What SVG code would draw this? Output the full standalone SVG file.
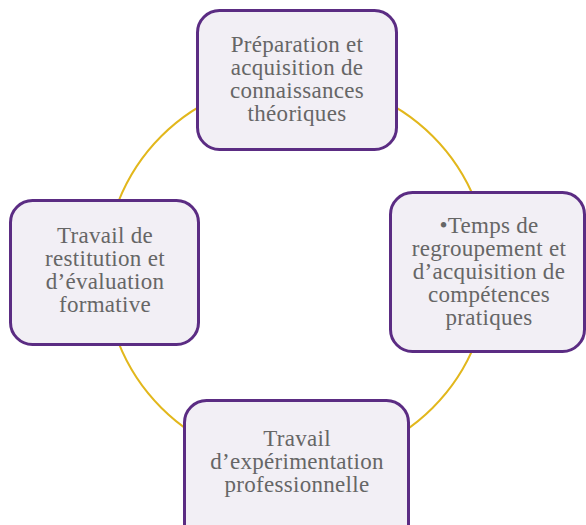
<svg xmlns="http://www.w3.org/2000/svg" width="586" height="525" viewBox="0 0 586 525">
<style>
.node{fill:#F2EFF5;stroke:#5B2C83;stroke-width:3}
.lbl{font-family:"Liberation Serif","Times New Roman",serif;font-size:23px;letter-spacing:0.3px;fill:#666666;text-anchor:middle}
.ring{fill:none;stroke:#E2B71C;stroke-width:2}
</style>
<rect width="586" height="525" fill="#FFFFFF"/>
<g id="connectors">
<circle class="ring" cx="297" cy="272" r="192"/>
</g>
<g id="node-top">
<rect class="node" x="197.5" y="10.5" width="199" height="139" rx="22"/>
<text class="lbl" x="297" y="52">Préparation et</text>
<text class="lbl" x="297" y="75">acquisition de</text>
<text class="lbl" x="297" y="98">connaissances</text>
<text class="lbl" x="297" y="121">théoriques</text>
</g>
<g id="node-right">
<rect class="node" x="390.5" y="192.5" width="194" height="159" rx="22"/>
<text class="lbl" x="489" y="233">•Temps de</text>
<text class="lbl" x="489" y="256">regroupement et</text>
<text class="lbl" x="489" y="279">d’acquisition de</text>
<text class="lbl" x="489" y="302">compétences</text>
<text class="lbl" x="489" y="325">pratiques</text>
</g>
<g id="node-left">
<rect class="node" x="10.5" y="200.5" width="188" height="144" rx="22"/>
<text class="lbl" x="105" y="243">Travail de</text>
<text class="lbl" x="105" y="266">restitution et</text>
<text class="lbl" x="105" y="289">d’évaluation</text>
<text class="lbl" x="105" y="312">formative</text>
</g>
<g id="node-bottom">
<rect class="node" x="184.5" y="400.5" width="224" height="145" rx="22"/>
<text class="lbl" x="297" y="446">Travail</text>
<text class="lbl" x="297" y="469">d’expérimentation</text>
<text class="lbl" x="297" y="492">professionnelle</text>
</g>
</svg>
